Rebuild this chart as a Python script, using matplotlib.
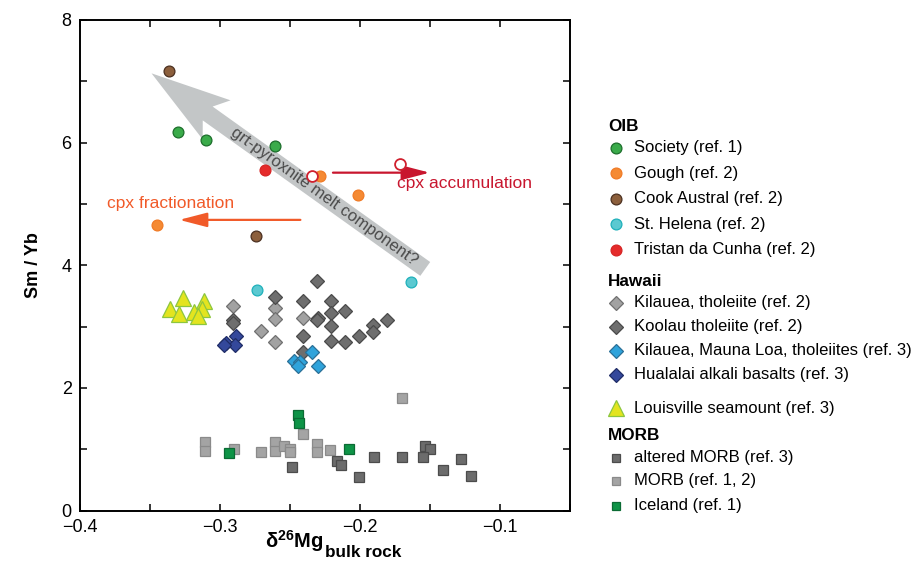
import numpy as np
import matplotlib
matplotlib.use("Agg")
import matplotlib.pyplot as plt
from matplotlib.patches import Polygon, FancyArrowPatch
from matplotlib.lines import Line2D
from matplotlib.ticker import MultipleLocator, FuncFormatter

plt.rcParams["font.family"] = ["Liberation Sans", "DejaVu Sans"]
plt.rcParams["mathtext.fontset"] = "custom"
plt.rcParams["mathtext.rm"] = "Liberation Sans"
plt.rcParams["mathtext.bf"] = "Liberation Sans:bold"

# ---------------- data ----------------
society_x = [-0.330, -0.310, -0.261]
society_y = [6.18, 6.04, 5.94]
gough_x = [-0.2285, -0.2016, -0.3453]
gough_y = [5.45, 5.15, 4.65]
cook_x = [-0.3364, -0.2746]
cook_y = [7.17, 4.47]
helena_x = [-0.2736, -0.1637]
helena_y = [3.59, 3.73]
tristan_x = [-0.2677]
tristan_y = [5.55]
tristan_cpx_x = [-0.2346, -0.1717]   # open circles (cpx accumulation)
tristan_cpx_y = [5.45, 5.65]

kil_x = [-0.2907, -0.2705, -0.2605, -0.2605, -0.2605, -0.2408]
kil_y = [3.34, 2.93, 3.31, 3.12, 2.75, 3.14]
koolau_x = [-0.2306, -0.2605, -0.2907, -0.2907, -0.2408, -0.2301, -0.2310,
            -0.2206, -0.2106, -0.2206, -0.2206, -0.2408, -0.2206, -0.2106,
            -0.2009, -0.1910, -0.1908, -0.1807, -0.2408]
koolau_y = [3.74, 3.48, 3.11, 3.05, 3.42, 3.14, 3.11,
            3.42, 3.25, 3.22, 3.01, 2.85, 2.77, 2.75,
            2.85, 3.03, 2.91, 3.10, 2.59]
kml_x = [-0.2345, -0.2468, -0.2432, -0.2444, -0.2297]
kml_y = [2.59, 2.44, 2.43, 2.35, 2.36]
hual_x = [-0.2888, -0.2954, -0.2896, -0.2975]
hual_y = [2.85, 2.74, 2.70, 2.70]

louis_x = [-0.3264, -0.3359, -0.3294, -0.3114, -0.3185, -0.3126, -0.3157]
louis_y = [3.46, 3.29, 3.21, 3.41, 3.24, 3.29, 3.18]

alt_x = [-0.2487, -0.2166, -0.2135, -0.2007, -0.1899, -0.1698, -0.1536,
         -0.1498, -0.1548, -0.1408, -0.1280, -0.1208]
alt_y = [0.71, 0.80, 0.75, 0.54, 0.87, 0.88, 1.06,
         1.00, 0.87, 0.66, 0.84, 0.57]
morb_x = [-0.3104, -0.3104, -0.2902, -0.2705, -0.2608, -0.2608, -0.2546,
          -0.2503, -0.2503, -0.2406, -0.2306, -0.2306, -0.2211, -0.1698]
morb_y = [1.12, 0.97, 1.01, 0.96, 1.11, 0.97, 1.06,
          1.01, 0.96, 1.24, 1.08, 0.96, 0.98, 1.84]
iceland_x = [-0.2446, -0.2437, -0.2936, -0.2076]
iceland_y = [1.56, 1.42, 0.94, 1.00]

# annotations (data coords)
big_tail, big_tip = (-0.1534, 3.94), (-0.3489, 7.13)
big_label = "grt-pyroxnite melt component?"
acc_start, acc_end = (-0.2213, 5.51), (-0.1482, 5.51)
frac_start, frac_end = (-0.2406, 4.74), (-0.3311, 4.74)

# ---------------- styles ----------------
circ = dict(marker="o", ms=7.8, mew=0.9)
diam = dict(marker="D", ms=7.3, mew=0.9)
sq = dict(marker="s", ms=7.4, mew=0.9)
tri = dict(marker="^", ms=11, mew=0.9)

series = [
    # x, y, style, face, edge
    (morb_x, morb_y, sq, "#a4a4a4", "#8a8a8a"),
    (alt_x, alt_y, sq, "#6c6c6c", "#4c4c4c"),
    (iceland_x, iceland_y, sq, "#0e9447", "#0b6b34"),
    (kil_x, kil_y, diam, "#a2a2a2", "#707070"),
    (koolau_x, koolau_y, diam, "#6e6e6e", "#4a4a4a"),
    (kml_x, kml_y, diam, "#2fa3db", "#2a6f96"),
    (hual_x, hual_y, diam, "#34489b", "#1f2c66"),
    (louis_x, louis_y, tri, "#e3e41f", "#8cc63f"),
    (society_x, society_y, circ, "#3aab4a", "#1c6e2b"),
    (gough_x, gough_y, circ, "#f58a33", "#f07a25"),
    (cook_x, cook_y, circ, "#8c5f3c", "#4b3020"),
    (helena_x, helena_y, circ, "#5bc9d1", "#1fb0ba"),
    (tristan_x, tristan_y, circ, "#e52b2b", "#d62424"),
]

fig = plt.figure(figsize=(9.21, 5.75), dpi=100)
ax = fig.add_axes([80 / 921, 1 - 510.5 / 575, 490 / 921, 490.5 / 575])
ax.set_xlim(-0.4, -0.05)
ax.set_ylim(0, 8)

for xs, ys, st, fc, ec in series:
    ax.plot(xs, ys, ls="none", mfc=fc, mec=ec, zorder=4, **st)
ax.plot(tristan_cpx_x, tristan_cpx_y, ls="none", marker="o", ms=7.8, mfc="white",
        mec="#d0202e", mew=1.3, zorder=4)

# big grey arrow
T = ax.transData
p0 = np.array(T.transform(big_tail))
p1 = np.array(T.transform(big_tip))
u = (p1 - p0) / np.linalg.norm(p1 - p0)
n = np.array([-u[1], u[0]])
w, head_len, neck, hh = 17, 80, 69, 24
pts = [p0 + n * w / 2, p1 - u * neck + n * w / 2, p1 - u * head_len + n * hh, p1,
       p1 - u * head_len - n * hh, p1 - u * neck - n * w / 2, p0 - n * w / 2]
ax.add_patch(Polygon(T.inverted().transform(pts), closed=True, fc="#c3c6c7",
                     ec="none", zorder=2))
ang = np.degrees(np.arctan2(p0[1] - p1[1], p0[0] - p1[0]))
mid = T.inverted().transform(p0 + (p1 - p0) * 0.37)
ax.text(mid[0], mid[1], big_label, rotation=ang, rotation_mode="anchor",
        ha="center", va="center", fontsize=12, color="#4a4a4a", zorder=3)

# cpx arrows
ax.add_patch(FancyArrowPatch(acc_start, acc_end, arrowstyle="-|>,head_length=0.85,head_width=0.22",
                             mutation_scale=20, color="#c8162e", lw=1.6, zorder=3))
ax.text(-0.1738, 5.33, "cpx accumulation", color="#c8162e", fontsize=12.5,
        ha="left", va="center")
ax.add_patch(FancyArrowPatch(frac_start, frac_end, arrowstyle="-|>,head_length=0.85,head_width=0.22",
                             mutation_scale=20, color="#f15a29", lw=1.6, zorder=3))
ax.text(-0.3806, 5.01, "cpx fractionation", color="#f15a29", fontsize=12.5,
        ha="left", va="center")

# axes styling
ax.xaxis.set_major_locator(MultipleLocator(0.05))
ax.yaxis.set_major_locator(MultipleLocator(1))
ax.xaxis.set_major_formatter(FuncFormatter(
    lambda v, p: ("\u2212%.1f" % abs(v)) if abs(round(v * 20)) % 2 == 0 else ""))
ax.yaxis.set_major_formatter(FuncFormatter(
    lambda v, p: "%d" % v if int(round(v)) % 2 == 0 else ""))
ax.tick_params(direction="in", top=True, right=True, length=5, width=1.1,
               labelsize=13)
ax.tick_params(axis="x", pad=6)
ax.tick_params(axis="y", pad=6)
for s in ax.spines.values():
    s.set_linewidth(1.4)

ax.set_ylabel("Sm / Yb", fontsize=13, fontweight="bold", labelpad=14)
fig.text(323 / 921, 1 - 548.3 / 575, r"$\mathbf{\delta^{26}Mg}$", fontsize=14.5,
         ha="right", va="baseline")
fig.text(325 / 921, 1 - 556.7 / 575, "bulk rock", fontsize=12.3, fontweight="bold",
         ha="left", va="baseline")

# legend (drawn by hand to keep the grouped layout)
headers = [("OIB", 126.7), ("Hawaii", 281.7), ("MORB", 436)]
leg_labels = ["Society (ref. 1)", "Gough (ref. 2)", "Cook Austral (ref. 2)",
              "St. Helena (ref. 2)", "Tristan da Cunha (ref. 2)",
              "Kilauea, tholeiite (ref. 2)", "Koolau tholeiite (ref. 2)",
              "Kilauea, Mauna Loa, tholeiites (ref. 3)", "Hualalai alkali basalts (ref. 3)",
              "Louisville seamount (ref. 3)",
              "altered MORB (ref. 3)", "MORB (ref. 1, 2)", "Iceland (ref. 1)"]
leg_rows = [147.7, 173.3, 199, 224.3, 250, 302.7, 326.7, 350.7, 375, 408.3,
            457.7, 481, 505.7]
leg_series = [8, 9, 10, 11, 12, 3, 4, 5, 6, 7, 1, 0, 2]
H = 575.0
for name, yp in headers:
    fig.text(608 / 921, 1 - yp / H, name, fontsize=12.3, fontweight="bold",
             ha="left", va="center")
for lab, yp, si in zip(leg_labels, leg_rows, leg_series):
    _, _, st, fc, ec = series[si]
    st2 = dict(st)
    if st2["marker"] == "s":
        st2["ms"] = 6.4
    fig.add_artist(Line2D([616 / 921], [1 - yp / H], ls="none", mfc=fc, mec=ec,
                          transform=fig.transFigure, **st2))
    fig.text(634 / 921, 1 - yp / H, lab, fontsize=12, ha="left", va="center")

fig.savefig("out.png", dpi=100)
